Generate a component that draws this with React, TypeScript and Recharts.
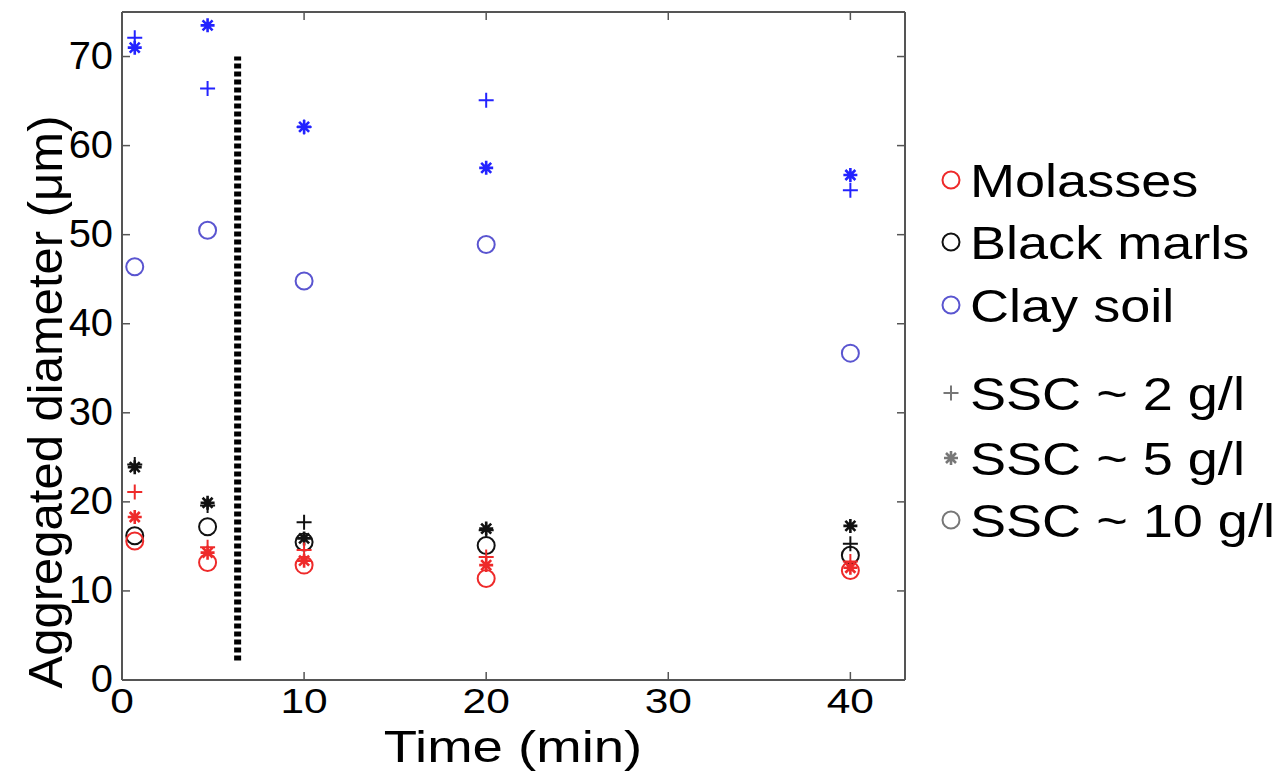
import { ReferenceLine, Scatter, ScatterChart, XAxis, YAxis, Label } from "recharts";

// sampling times (min)
const times = [0.7, 4.7, 10, 20, 40];

// aggregated diameter (µm) per soil and SSC
const molassesSsc2 = [21.1, 14.9, 14.6, 13.8, 13.3];
const molassesSsc5 = [18.3, 14.3, 13.4, 12.9, 12.6];
const molassesSsc10 = [15.6, 13.2, 12.9, 11.4, 12.3];
const marlsSsc2 = [24.2, 19.6, 17.7, 16.8, 15.3];
const marlsSsc5 = [23.9, 19.9, 15.9, 17.0, 17.3];
const marlsSsc10 = [16.2, 17.2, 15.5, 15.1, 14.0];
const claySsc2 = [72.1, 66.4, 62.1, 65.1, 55.0];
const claySsc5 = [71.0, 73.5, 62.1, 57.5, 56.7];
const claySsc10 = [46.4, 50.5, 44.8, 48.9, 36.7];

const xTicks = [0, 10, 20, 30, 40];
const yTicks = [0, 10, 20, 30, 40, 50, 60, 70];
const cutoffTime = 6.35;
const cutoffRange = [2.2, 70];

const soilNames = ["Molasses", "Black marls", "Clay soil"];
const sscNames = ["SSC ~ 2 g/l", "SSC ~ 5 g/l", "SSC ~ 10 g/l"];

const RED = "#ee2a2a";
const BLACK = "#111";
const BLUE = "#2323ff";
const BLUE_CIRCLE = "#5a55d0";
const GRAY = "#777";

const PLOT_TOP = 12;
const PLOT_RIGHT = 905;
const FONT = "'Liberation Sans', Arial, sans-serif";

const pts = (vals: number[]) => times.map((t, i) => ({ t, v: vals[i] }));

const plus = (color: string) => (p: any) => {
  const { cx, cy } = p, s = 7.5;
  return <path d={`M${cx - s},${cy}H${cx + s}M${cx},${cy - s}V${cy + s}`} stroke={color} strokeWidth={2} fill="none" />;
};
const star = (color: string) => (p: any) => {
  const { cx, cy } = p, s = 7, d = 5;
  return <path d={`M${cx - s},${cy}H${cx + s}M${cx},${cy - s}V${cy + s}M${cx - d},${cy - d}L${cx + d},${cy + d}M${cx - d},${cy + d}L${cx + d},${cy - d}`} stroke={color} strokeWidth={2.6} fill="none" />;
};
const ring = (color: string) => (p: any) => <circle cx={p.cx} cy={p.cy} r={8.5} stroke={color} strokeWidth={2} fill="none" />;

const XTick = (p: any) => {
  const { x, y, payload } = p;
  return <g>
    <line x1={x} x2={x} y1={y} y2={y - 8} stroke="#555" strokeWidth={1.5} />
    <line x1={x} x2={x} y1={PLOT_TOP} y2={PLOT_TOP + 8} stroke="#555" strokeWidth={1.5} />
    <text transform={`translate(${x},${y + 33}) scale(1.18,1)`} textAnchor="middle" fontSize={36} fontFamily={FONT} fill="#000">{payload.value}</text>
  </g>;
};
const YTick = (p: any) => {
  const { x, y, payload } = p;
  return <g>
    <line x1={x} x2={x + 8} y1={y} y2={y} stroke="#555" strokeWidth={1.5} />
    <line x1={PLOT_RIGHT} x2={PLOT_RIGHT - 8} y1={y} y2={y} stroke="#555" strokeWidth={1.5} />
    <text transform={`translate(${x - 9},${y + 12}) scale(1.05,1)`} textAnchor="end" fontSize={38} fontFamily={FONT} fill="#000">{payload.value}</text>
  </g>;
};

const legendRows = [
  { label: soilNames[0], shape: "ring", color: RED, top: 180 },
  { label: soilNames[1], shape: "ring", color: BLACK, top: 242 },
  { label: soilNames[2], shape: "ring", color: BLUE_CIRCLE, top: 305 },
  { label: sscNames[0], shape: "plus", color: GRAY, top: 393 },
  { label: sscNames[1], shape: "star", color: GRAY, top: 458 },
  { label: sscNames[2], shape: "ring", color: GRAY, top: 520 },
];

const LegendBox = () => <div style={{ position: "absolute", left: 936, top: 0, width: 360, height: 773 }}>
  {legendRows.map((r) => {
    const m = r.shape === "plus" ? plus(r.color) : r.shape === "star" ? star(r.color) : ring(r.color);
    return <div key={r.label} style={{ position: "absolute", left: 0, top: r.top - 30, height: 60, display: "flex", alignItems: "center", whiteSpace: "nowrap" }}>
      <svg width={30} height={30}>{m({ cx: 15, cy: 15 })}</svg>
      <span style={{ fontFamily: FONT, fontSize: 47, marginLeft: 4, display: "inline-block", transform: "scaleX(1.15)", transformOrigin: "left center", color: "#000" }}>{r.label}</span>
    </div>;
  })}
</div>;

export default function App() {
  return <div style={{ position: "absolute", left: 0, top: 0, width: 1277, height: 773, overflow: "hidden", background: "#fff" }}>
    <ScatterChart width={1277} height={773} margin={{ top: PLOT_TOP, right: 1277 - PLOT_RIGHT, bottom: 0, left: 0 }}>
      <XAxis type="number" dataKey="t" domain={[0, 43]} ticks={xTicks} tick={<XTick />} tickLine={false} tickSize={0} tickMargin={0} height={93} axisLine={{ stroke: "#555", strokeWidth: 2 }} allowDataOverflow>
        <Label content={() => <text transform="translate(513,762) scale(1.24,1)" textAnchor="middle" fontSize={44} fontFamily={FONT} fill="#000">Time (min)</text>} />
      </XAxis>
      <YAxis type="number" dataKey="v" domain={[0, 75]} ticks={yTicks} tick={<YTick />} tickLine={false} tickSize={0} tickMargin={0} width={122} axisLine={{ stroke: "#555", strokeWidth: 2 }} allowDataOverflow>
        <Label content={() => <text transform="translate(62,402) rotate(-90)" textAnchor="middle" fontSize={49} fontFamily={FONT} fill="#000">Aggregated diameter (μm)</text>} />
      </YAxis>
      <ReferenceLine y={75} stroke="#555" strokeWidth={2} />
      <ReferenceLine x={43} stroke="#555" strokeWidth={2} />
      <ReferenceLine segment={[{ x: cutoffTime, y: cutoffRange[0] }, { x: cutoffTime, y: cutoffRange[1] }]} stroke="#000" strokeWidth={7} strokeDasharray="5 3" />
      <Scatter name="Clay ssc10" data={pts(claySsc10)} shape={ring(BLUE_CIRCLE)} isAnimationActive={false} />
      <Scatter name="Clay ssc2" data={pts(claySsc2)} shape={plus(BLUE)} isAnimationActive={false} />
      <Scatter name="Clay ssc5" data={pts(claySsc5)} shape={star(BLUE)} isAnimationActive={false} />
      <Scatter name="Marls ssc10" data={pts(marlsSsc10)} shape={ring(BLACK)} isAnimationActive={false} />
      <Scatter name="Marls ssc2" data={pts(marlsSsc2)} shape={plus(BLACK)} isAnimationActive={false} />
      <Scatter name="Marls ssc5" data={pts(marlsSsc5)} shape={star(BLACK)} isAnimationActive={false} />
      <Scatter name="Molasses ssc10" data={pts(molassesSsc10)} shape={ring(RED)} isAnimationActive={false} />
      <Scatter name="Molasses ssc2" data={pts(molassesSsc2)} shape={plus(RED)} isAnimationActive={false} />
      <Scatter name="Molasses ssc5" data={pts(molassesSsc5)} shape={star(RED)} isAnimationActive={false} />
    </ScatterChart>
    <LegendBox />
  </div>;
}
